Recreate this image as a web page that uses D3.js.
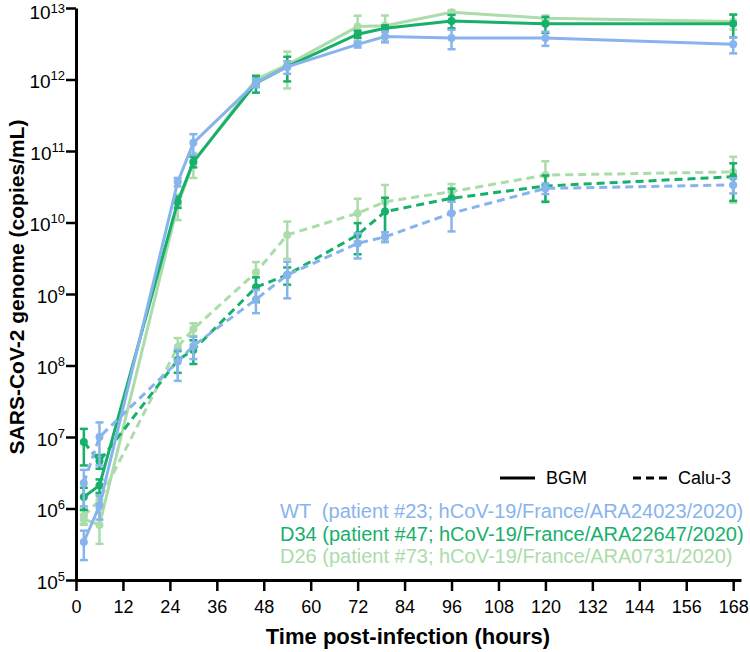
<!DOCTYPE html>
<html>
<head>
<meta charset="utf-8">
<script src="https://cdn.jsdelivr.net/npm/d3@7"></script>
<style>
  body { margin: 0; background: #fff; }
  svg { display: block; }
  text { font-family: "Liberation Sans", Arial, Helvetica, sans-serif; }
</style>
</head>
<body>
<div id="chart"></div>
<script>
// time points (hours post-infection)
const hours = [2, 6, 26, 30, 46, 54, 72, 79, 96, 120, 168];
const xTicks = d3.range(0, 169, 12);
const yTicks = [1e5, 1e6, 1e7, 1e8, 1e9, 1e10, 1e11, 1e12, 1e13];

// BGM cells (solid lines), mean and SD in copies/mL
const wtBgm   = [3.4e5, 1.1e6, 3.7e10, 1.3e11, 9.0e11, 1.5e12, 3.1e12, 4.0e12, 3.8e12, 3.8e12, 3.1e12];
const wtBgmSd = [1.5e5, 4e5, 5e9, 4.2e10, 1.2e11, 3e11, 3e11, 7e11, 1.15e12, 8.5e11, 7.8e11];
const d34Bgm   = [1.45e6, 2.1e6, 1.95e10, 7.1e10, 8.85e11, 1.51e12, 4.3e12, 5.2e12, 6.6e12, 6.0e12, 6.0e12];
const d34BgmSd = [5e5, 4.5e5, 3.5e9, 1.2e10, 2.3e11, 5.7e11, 5e11, 5e11, 1.4e12, 1.5e12, 2.1e12];
const d26Bgm   = [7.1e5, 5.9e5, 1.76e10, 6.8e10, 1.0e12, 1.6e12, 5.5e12, 5.65e12, 8.7e12, 7.2e12, 6.5e12];
const d26BgmSd = [1e5, 2.7e5, 6.8e9, 2.6e10, 1.5e11, 8.5e11, 2.3e12, 2.2e12, 6e11, 6e11, 1.5e12];

// Calu-3 cells (dashed lines)
const wtCalu   = [2.27e6, 1.0e7, 1.13e8, 1.88e8, 8.4e8, 1.85e9, 5.1e9, 6.3e9, 1.35e10, 3.0e10, 3.35e10];
const wtCaluSd = [1.2e6, 6e6, 5.2e7, 6.5e7, 3e8, 9.8e8, 1.96e9, 1e9, 6e9, 5e9, 8e9];
const d34Calu   = [8.5e6, 4.6e6, 1.19e8, 1.65e8, 1.24e9, 1.85e9, 6.7e9, 1.42e10, 2.18e10, 3.24e10, 4.37e10];
const d34CaluSd = [4.5e6, 1e6, 4e7, 6e7, 4.7e8, 5e8, 3.1e9, 8e9, 8e9, 1.3e10, 2.36e10];
const d26Calu   = [7.9e5, 1.3e6, 1.82e8, 3.24e8, 2.0e9, 6.7e9, 1.35e10, 1.95e10, 2.7e10, 4.6e10, 5.1e10];
const d26CaluSd = [2e5, 3e5, 6e7, 6.5e7, 8e8, 3.6e9, 8e9, 1.4e10, 7.5e9, 2.6e10, 3.2e10];

const strainLabels = [
  "WT  (patient #23; hCoV-19/France/ARA24023/2020)",
  "D34 (patient #47; hCoV-19/France/ARA22647/2020)",
  "D26 (patient #73; hCoV-19/France/ARA0731/2020)"
];
const COLORS = { wt: "#88b4ee", d34: "#17b06b", d26: "#abdca9" };

const W = 750, H = 652;
const x = d3.scaleLinear().domain([0, 170]).range([76, 741]);
const y = d3.scaleLog().domain([1e5, 1e13]).range([580, 8]);

const svg = d3.select("#chart").append("svg")
  .attr("width", W).attr("height", H)
  .attr("viewBox", [0, 0, W, H]);

// drawing order: light green, dark green, blue on top
const series = [
  { mean: d26Bgm, sd: d26BgmSd, color: COLORS.d26, dash: null },
  { mean: d26Calu, sd: d26CaluSd, color: COLORS.d26, dash: "8,5" },
  { mean: d34Bgm, sd: d34BgmSd, color: COLORS.d34, dash: null },
  { mean: d34Calu, sd: d34CaluSd, color: COLORS.d34, dash: "8,5" },
  { mean: wtBgm, sd: wtBgmSd, color: COLORS.wt, dash: null },
  { mean: wtCalu, sd: wtCaluSd, color: COLORS.wt, dash: "8,5" }
];

const line = d3.line().x(d => x(d.t)).y(d => y(d.v));
const plot = svg.append("g");

series.forEach(s => {
  const pts = hours.map((t, i) => ({
    t, v: s.mean[i],
    lo: Math.max(s.mean[i] - s.sd[i], 1e5),
    hi: s.mean[i] + s.sd[i]
  }));
  const g = plot.append("g").attr("stroke", s.color).attr("fill", s.color);

  g.append("path").datum(pts)
    .attr("d", line).attr("fill", "none")
    .attr("stroke-width", 3)
    .attr("stroke-dasharray", s.dash);

  const eb = g.selectAll(".eb").data(pts).join("g").attr("stroke-width", 2.5);
  eb.append("line")
    .attr("x1", d => x(d.t)).attr("x2", d => x(d.t))
    .attr("y1", d => y(d.lo)).attr("y2", d => y(d.hi));
  eb.append("line")
    .attr("x1", d => x(d.t) - 4).attr("x2", d => x(d.t) + 4)
    .attr("y1", d => y(d.hi)).attr("y2", d => y(d.hi));
  eb.append("line")
    .attr("x1", d => x(d.t) - 4).attr("x2", d => x(d.t) + 4)
    .attr("y1", d => y(d.lo)).attr("y2", d => y(d.lo));

  g.selectAll("circle").data(pts).join("circle")
    .attr("cx", d => x(d.t)).attr("cy", d => y(d.v))
    .attr("r", 4).attr("stroke", "none");
});

// axes
const xAxis = svg.append("g")
  .attr("transform", "translate(0,580)")
  .call(d3.axisBottom(x).tickValues(xTicks).tickSize(11).tickSizeOuter(0));
xAxis.select(".domain").attr("stroke-width", 3);
xAxis.selectAll(".tick line").attr("stroke-width", 2.5);
xAxis.selectAll(".tick text")
  .attr("y", 33).attr("dy", null)
  .attr("font-size", 18).attr("fill", "#000")
  .style("font-family", "'Liberation Sans', Arial, sans-serif");

const yAxis = svg.append("g")
  .attr("transform", "translate(76,0)")
  .call(d3.axisLeft(y).tickValues(yTicks).tickSize(10).tickSizeOuter(0));
yAxis.select(".domain").attr("stroke-width", 3);
yAxis.selectAll(".tick line").attr("stroke-width", 2.5);
yAxis.selectAll(".tick text").each(function (d) {
  const top = d >= 1e13;
  const t = d3.select(this).text(null)
    .attr("x", -11).attr("y", top ? 10 : 8).attr("dy", null)
    .attr("font-size", 19).attr("fill", "#000")
    .style("font-family", "'Liberation Sans', Arial, sans-serif");
  t.append("tspan").text("10");
  t.append("tspan").attr("dy", top ? -6 : -8).attr("font-size", 13)
    .text(Math.round(Math.log10(d)));
});

// axis titles
svg.append("text")
  .attr("x", 408).attr("y", 644)
  .attr("text-anchor", "middle")
  .attr("font-size", 22).attr("font-weight", "bold")
  .text("Time post-infection (hours)");

svg.append("text")
  .attr("transform", "translate(24,287) rotate(-90)")
  .attr("text-anchor", "middle")
  .attr("font-size", 21).attr("font-weight", "bold")
  .text("SARS-CoV-2 genome (copies/mL)");

// legend: cell lines
const leg = svg.append("g");
leg.append("line").attr("x1", 500).attr("x2", 535).attr("y1", 478).attr("y2", 478)
  .attr("stroke", "#000").attr("stroke-width", 3);
leg.append("text").attr("x", 546).attr("y", 484).attr("font-size", 18).text("BGM");
leg.append("line").attr("x1", 633).attr("x2", 667).attr("y1", 478).attr("y2", 478)
  .attr("stroke", "#000").attr("stroke-width", 3).attr("stroke-dasharray", "8,5");
leg.append("text").attr("x", 678).attr("y", 484).attr("font-size", 18).text("Calu-3");

// legend: strains
const strainColors = [COLORS.wt, COLORS.d34, COLORS.d26];
leg.selectAll(".strain").data(strainLabels).join("text")
  .attr("x", 280).attr("y", (d, i) => 518 + i * 22.5)
  .attr("font-size", 20)
  .attr("fill", (d, i) => strainColors[i])
  .style("white-space", "pre")
  .text(d => d);
</script>
</body>
</html>
